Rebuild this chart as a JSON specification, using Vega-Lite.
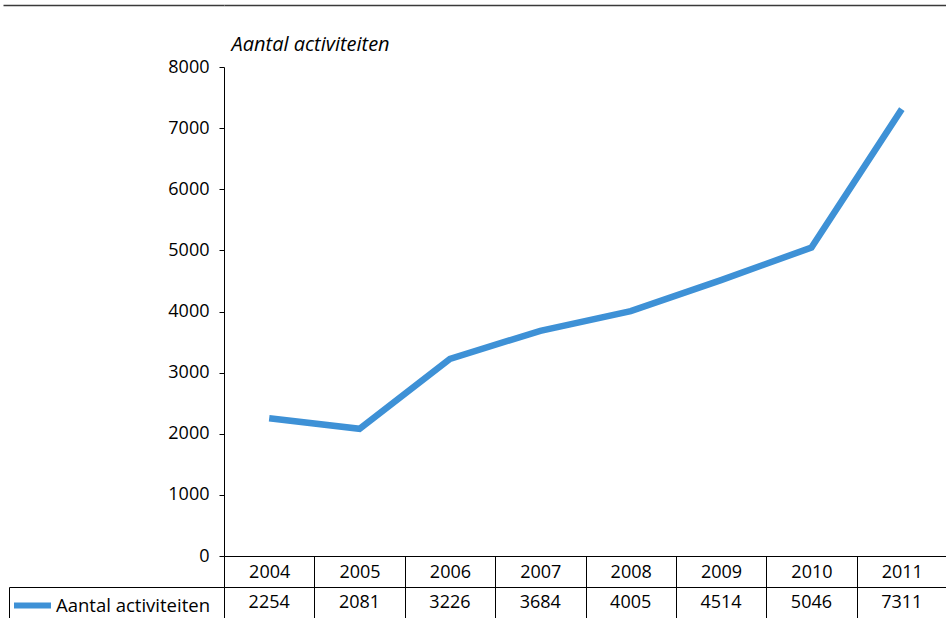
{
  "$schema": "https://vega.github.io/schema/vega-lite/v6.json",
  "autosize": {"type": "pad"},
  "padding": {"left": 2, "top": 4, "right": 0, "bottom": 0},
  "background": "white",
  "config": {
    "font": "Open Sans",
    "view": {"stroke": null},
    "axis": {"labelFont": "Open Sans", "labelColor": "black", "labelFontSize": 18, "domainColor": "black", "tickColor": "black"}
  },
  "data": {
    "values": [
      {"jaar": "2004", "aantal": 2254, "serie": "Aantal activiteiten"},
      {"jaar": "2005", "aantal": 2081, "serie": "Aantal activiteiten"},
      {"jaar": "2006", "aantal": 3226, "serie": "Aantal activiteiten"},
      {"jaar": "2007", "aantal": 3684, "serie": "Aantal activiteiten"},
      {"jaar": "2008", "aantal": 4005, "serie": "Aantal activiteiten"},
      {"jaar": "2009", "aantal": 4514, "serie": "Aantal activiteiten"},
      {"jaar": "2010", "aantal": 5046, "serie": "Aantal activiteiten"},
      {"jaar": "2011", "aantal": 7311, "serie": "Aantal activiteiten"}
    ]
  },
  "vconcat": [
    {
      "width": 723,
      "height": 489,
      "layer": [
        {
          "mark": {"type": "line", "strokeWidth": 6.5, "strokeCap": "butt", "strokeJoin": "miter"},
          "encoding": {
            "x": {
              "field": "jaar", "type": "ordinal", "bandPosition": 0.5,
              "scale": {"type": "band", "paddingInner": 0, "paddingOuter": 0},
              "axis": {
                "title": null, "orient": "bottom", "labelAngle": 0,
                "tickBand": "extent", "tickSize": 31, "labelBaseline": "middle",
                "labelPadding": -15, "domainWidth": 1, "tickWidth": 1
              }
            },
            "y": {
              "field": "aantal", "type": "quantitative",
              "scale": {"domain": [0, 8000], "nice": false, "zero": true},
              "axis": {
                "values": [0, 1000, 2000, 3000, 4000, 5000, 6000, 7000, 8000],
                "format": "d",
                "grid": false, "tickSize": 5, "labelPadding": 10,
                "title": "Aantal activiteiten", "titleAngle": 0, "titleAlign": "left",
                "titleBaseline": "middle", "titleX": 7, "titleY": -23,
                "titleFont": "Open Sans", "titleFontStyle": "italic", "titleFontWeight": "normal",
                "titleFontSize": 20, "titleColor": "black"
              }
            },
            "color": {
              "field": "serie", "type": "nominal",
              "scale": {"range": ["#3e91d6"]},
              "legend": {
                "title": null, "orient": "none", "legendX": -213, "legendY": 517,
                "symbolType": "stroke", "symbolStrokeWidth": 6, "symbolSize": 1369,
                "labelFontSize": 18.5, "labelFont": "Open Sans", "labelColor": "black",
                "labelOffset": 2, "padding": 0
              }
            }
          }
        },
        {
          "mark": {"type": "rule", "opacity": 0},
          "encoding": {
            "y": {
              "datum": 8000, "type": "quantitative",
              "axis": {
                "orient": "left", "values": [8000], "grid": true, "gridColor": "#3a3a3a",
                "gridWidth": 1.6, "gridOpacity": 1, "tickSize": 221, "tickColor": "#3a3a3a",
                "tickWidth": 1.6, "tickOffset": -62, "labels": false, "domain": false, "title": null
              }
            }
          }
        }
      ],
      "resolve": {"axis": {"y": "independent"}}
    },
    {
      "width": 723,
      "height": 31,
      "mark": {"type": "text", "fontSize": 18, "font": "Open Sans", "color": "black", "baseline": "middle"},
      "encoding": {
        "x": {
          "field": "jaar", "type": "ordinal", "bandPosition": 0.5,
          "scale": {"type": "band", "paddingInner": 0, "paddingOuter": 0},
          "axis": {
            "orient": "top", "title": null, "labels": false, "ticks": false,
            "domain": true, "grid": true, "tickBand": "extent",
            "gridColor": "black", "gridOpacity": 1, "gridWidth": 1
          }
        },
        "y": {
          "field": "serie", "type": "nominal",
          "scale": {"type": "band", "paddingInner": 0, "paddingOuter": 0},
          "axis": {
            "orient": "left", "title": null, "labels": false, "offset": 215,
            "tickSize": -215, "tickBand": "extent", "domain": true, "ticks": true
          }
        },
        "text": {"field": "aantal", "type": "quantitative", "format": "d"}
      }
    }
  ],
  "spacing": 31,
  "bounds": "flush"
}
